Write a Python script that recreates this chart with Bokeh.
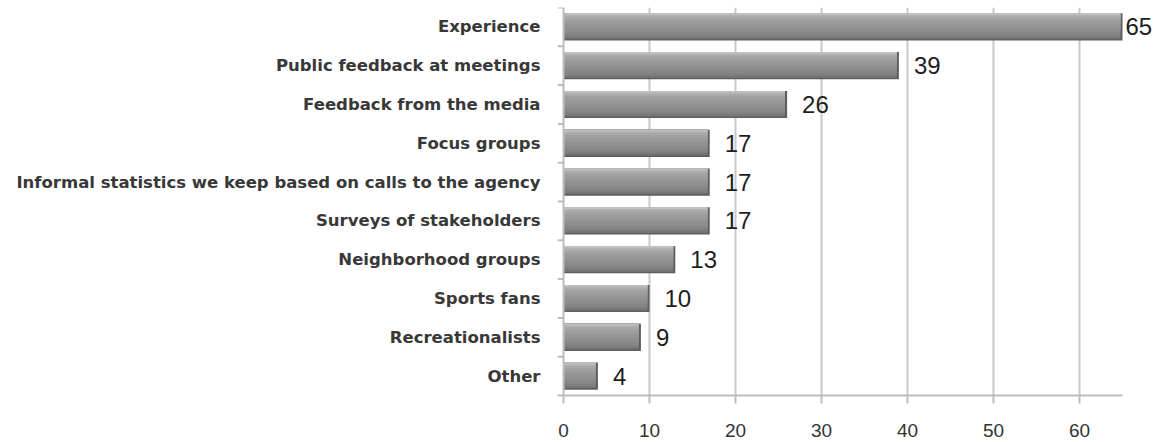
from bokeh.plotting import figure
from bokeh.models import (Range1d, LinearAxis, FixedTicker, ColumnDataSource, LabelSet, Grid, Span)
from bokeh.transform import dodge
from bokeh.core.properties import value
from bokeh.embed import file_html
from bokeh.resources import INLINE

categories = ["Experience", "Public feedback at meetings", "Feedback from the media",
              "Focus groups", "Informal statistics we keep based on calls to the agency",
              "Surveys of stakeholders", "Neighborhood groups", "Sports fans",
              "Recreationalists", "Other"]
counts = [65, 39, 26, 17, 17, 17, 13, 10, 9, 4]
x_ticks = [0, 10, 20, 30, 40, 50, 60]

n = len(categories)
ypos = [n - i - 0.5 for i in range(n)]   # first category at the top
bounds_y = list(range(1, n + 1))          # band boundaries for the small left ticks

x_start, x_end = -0.70, 68.72
p = figure(width=1154, height=442,
           y_range=Range1d(0, n), x_range=Range1d(x_start, x_end),
           output_backend="svg", toolbar_location=None,
           x_axis_location=None, y_axis_location=None,
           min_border_left=557, min_border_top=7, min_border_bottom=47, min_border_right=0,
           outline_line_color=None, background_fill_color="white", border_fill_color="white")
p.xgrid.visible = False
p.ygrid.visible = False

grid = Grid(dimension=0, ticker=FixedTicker(ticks=x_ticks[1:]),
            grid_line_color="#c9c9c9", grid_line_width=2)
p.add_layout(grid, "center")

# vertical axis line at zero and boundary ticks
p.add_layout(Span(location=0, dimension="height", line_color="#bdbdbd", line_width=2))
p.segment(x0=x_start, x1=0, y0=bounds_y, y1=bounds_y, line_color="#bdbdbd", line_width=2)

# bars: layered to imitate the bevelled gradient
bar_h = 0.70
peak = max(counts)
src = ColumnDataSource(dict(
    y=ypos,
    count=counts,
    inner=[c - 0.25 for c in counts],
    label=[str(c) for c in counts],
    off=[3 if c == peak else 15 for c in counts],
))
layers = [(1.00, "#5e5e5e", "count"),
          (0.95, "#737373", "inner"),
          (0.88, "#7e7e7e", "inner"),
          (0.79, "#868686", "inner"),
          (0.69, "#8c8c8c", "inner"),
          (0.59, "#919191", "inner"),
          (0.49, "#969696", "inner"),
          (0.39, "#9b9b9b", "inner"),
          (0.29, "#a1a1a1", "inner"),
          (0.20, "#a8a8a8", "inner"),
          (0.12, "#b2b2b2", "inner"),
          (0.06, "#c2c2c2", "inner")]
for bot, col, right in layers:
    centre = bar_h / 2 - bot / 2 * bar_h
    p.hbar(y=dodge("y", centre), left=0, right=right,
           height=bot * bar_h, source=src, fill_color=col, line_color=None)

labels = LabelSet(x="count", y="y", text="label", x_offset="off", source=src,
                  text_baseline="middle", text_align="left",
                  text_font=value("Liberation Sans"), text_font_size="24px",
                  text_color="#1e1e1e")
p.add_layout(labels)

# x axis
xaxis = LinearAxis(ticker=FixedTicker(ticks=x_ticks), bounds=(x_start, peak),
                   axis_line_color="#bdbdbd", axis_line_width=2,
                   major_tick_line_color="#bdbdbd", major_tick_line_width=2,
                   major_tick_out=8, major_tick_in=0, minor_tick_line_color=None,
                   major_label_standoff=20, major_label_text_font="Liberation Sans",
                   major_label_text_font_size="19px", major_label_text_color="#333333")
p.add_layout(xaxis, "below")

# y axis: category names at band centres
label_axis = LinearAxis(ticker=FixedTicker(ticks=ypos),
                        major_label_overrides={y: c for y, c in zip(ypos, categories)},
                        major_tick_line_color=None, major_tick_out=0, major_tick_in=0,
                        minor_tick_line_color=None,
                        axis_line_color=None, major_label_standoff=17,
                        major_label_text_font="DejaVu Sans",
                        major_label_text_font_style="bold",
                        major_label_text_font_size="16.5px",
                        major_label_text_color="#383838")
p.add_layout(label_axis, "left")

open("out.html", "w").write(file_html(p, INLINE))
